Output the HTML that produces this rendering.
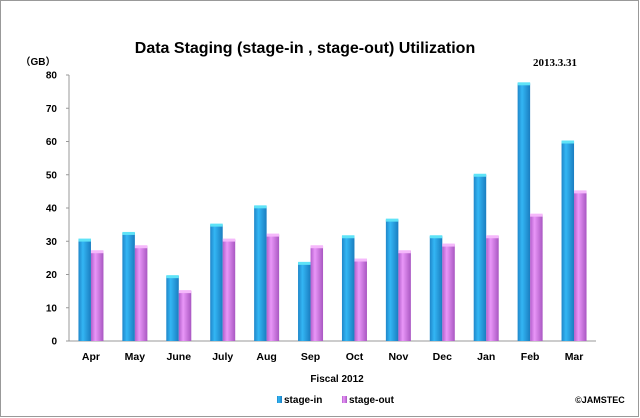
<!DOCTYPE html>
<html><head><meta charset="utf-8"><style>
html,body{margin:0;padding:0;background:#fff}
#wrap{position:relative;width:640px;height:418px;overflow:hidden;font-family:"Liberation Sans",sans-serif}
</style></head><body>
<div id="wrap">
<svg id="chart" width="640" height="418">
<defs>
<linearGradient id="gBlue" x1="0" x2="1" y1="0" y2="0"><stop offset="0" stop-color="#1f86c9"/><stop offset="0.35" stop-color="#33b6f4"/><stop offset="1" stop-color="#1a7dc0"/></linearGradient>
<linearGradient id="gPink" x1="0" x2="1" y1="0" y2="0"><stop offset="0" stop-color="#b35fcc"/><stop offset="0.35" stop-color="#e996f8"/><stop offset="1" stop-color="#a957c2"/></linearGradient>
</defs>
<rect x="0.5" y="0.5" width="638" height="416" fill="#fff" stroke="#999"/>
<text x="305" y="53" text-anchor="middle" font-size="16" font-weight="bold">Data Staging  (stage-in , stage-out) Utilization</text>
<text x="555" y="66" text-anchor="middle" font-size="11" font-weight="bold" font-family="Liberation Serif,serif">2013.3.31</text>
<text x="38" y="65" text-anchor="middle" font-size="10" font-weight="bold" font-family="Liberation Sans,'Noto Sans CJK JP',sans-serif">（GB）</text>
<g id="axes"></g>
<g id="bars"></g>
<text x="337" y="382" text-anchor="middle" font-size="10" font-weight="bold">Fiscal 2012</text>
<g>
<rect x="277" y="396" width="5" height="7" fill="url(#gBlue)"/>
<text x="284" y="403" font-size="10" font-weight="bold">stage-in</text>
<rect x="342" y="396" width="5" height="7" fill="url(#gPink)"/>
<text x="349" y="403" font-size="10" font-weight="bold">stage-out</text>
</g>
<text x="600" y="403" text-anchor="middle" font-size="9" font-weight="bold">©JAMSTEC</text>
</svg>
</div>
<script>
const categories=["Apr","May","June","July","Aug","Sep","Oct","Nov","Dec","Jan","Feb","Mar"];
const stageIn=[30.5,32.5,19.5,35,40.5,23.5,31.5,36.5,31.5,50,77.5,60];
const stageOut=[27,28.5,15,30.5,32,28.5,24.5,27,29,31.5,38,45];
const yTicks=[0,10,20,30,40,50,60,70,80];
const NS="http://www.w3.org/2000/svg";
const x0=69,x1=596,yBase=341,yTop=75,yMax=80;
const y=v=>yBase-(v/yMax)*(yBase-yTop);
const band=(x1-x0)/categories.length;
const xc=i=>x0+band*(i+0.5);
function mk(tag,attrs,parent){const e=document.createElementNS(NS,tag);for(const k in attrs)e.setAttribute(k,attrs[k]);parent.appendChild(e);return e;}
const axes=document.getElementById('axes'),bars=document.getElementById('bars');
let l=mk('line',{x1:x0,x2:x0,y1:yTop,y2:yBase,stroke:'#999'},axes);


l=mk('line',{x1:x0,x2:x1,y1:yBase,y2:yBase,stroke:'#999'},axes);


yTicks.forEach(t=>{
 const tk=mk('line',{x1:x0-3,x2:x0,y1:y(t),y2:y(t),stroke:'#999'},axes);
 
 
 const tx=mk('text',{x:57,y:y(t)+3.5,'text-anchor':'end','font-size':'10','font-weight':'bold'},axes);
 tx.textContent=t;
 
 
});
const bw=12.5;
categories.forEach((c,i)=>{
 const cx=xc(i);
 const b1=mk('rect',{x:cx-bw,y:y(stageIn[i]),width:bw,height:yBase-y(stageIn[i]),fill:'url(#gBlue)'},bars);
 
 
 const c1=mk('rect',{x:cx-bw,y:y(stageIn[i])-1,width:bw,height:3,fill:'#5fe3f7'},bars);
 
 
 const b2=mk('rect',{x:cx,y:y(stageOut[i]),width:bw,height:yBase-y(stageOut[i]),fill:'url(#gPink)'},bars);
 
 
 const c2=mk('rect',{x:cx,y:y(stageOut[i])-1,width:bw,height:3,fill:'#f5b8fb'},bars);
 
 
 const tx=mk('text',{x:cx,y:360,'text-anchor':'middle','font-size':'10.5','font-weight':'bold'},bars);
 tx.textContent=c;
 
 
});
</script>
</body></html>
